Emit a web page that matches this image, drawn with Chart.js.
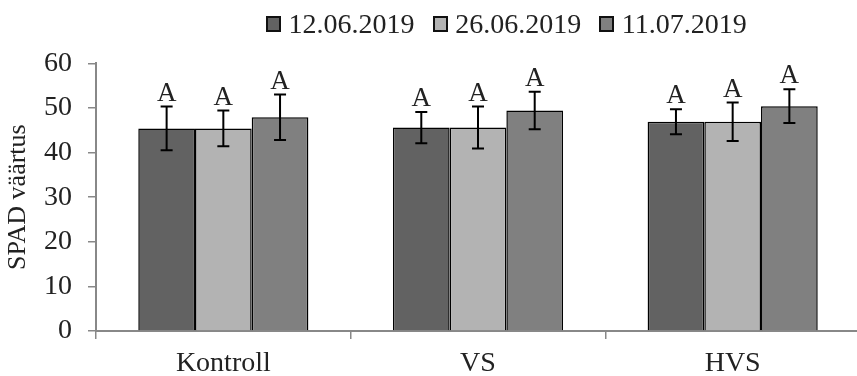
<!DOCTYPE html>
<html>
<head>
<meta charset="utf-8">
<script src="https://cdn.jsdelivr.net/npm/chart.js@4.4.1/dist/chart.umd.min.js"></script>
<style>
  html, body { margin: 0; padding: 0; background: #fff; overflow: hidden; }
  #wrap { position: relative; width: 860px; height: 376px; }
  #legend {
    position: absolute; left: 266px; top: 8px;
    display: flex; align-items: center;
    font-family: "Liberation Serif", "Times New Roman", serif;
    font-size: 28px; line-height: 32px; color: #222; white-space: nowrap;
  }
  .item { display: flex; align-items: center; margin-right: 18px; }
  .box { width: 15px; height: 16px; box-sizing: border-box; border: 2px solid #111; margin-right: 7.6px; }
</style>
</head>
<body>
<div id="wrap">
  <canvas id="c" width="860" height="376" style="width:860px;height:376px"></canvas>
  <div id="legend"></div>
</div>
<script>
// Treatments on the x axis
const categories = ['Kontroll', 'VS', 'HVS'];
// Measurement dates (one series each)
const seriesNames = ['12.06.2019', '26.06.2019', '11.07.2019'];
const seriesColors = ['#626262', '#b3b3b3', '#808080'];

// Mean SPAD values per treatment
const spad_1206 = [45.4, 45.6, 46.9];
const spad_2606 = [45.4, 45.6, 46.9];
const spad_1107 = [47.9, 49.4, 50.4];

// Standard deviations
const sd_1206 = [4.9, 3.5, 2.8];
const sd_2606 = [4.0, 4.7, 4.3];
const sd_1107 = [5.1, 4.2, 3.8];

// Significance letters
const sig_1206 = ['A', 'A', 'A'];
const sig_2606 = ['A', 'A', 'A'];
const sig_1107 = ['A', 'A', 'A'];

// Y axis range
const yMin = 0, yMax = 60, yStep = 10;

const FONT = '"Liberation Serif", "Times New Roman", serif';
const values = [spad_1206, spad_2606, spad_1107];
const errors = [sd_1206, sd_2606, sd_1107];
const letters = [sig_1206, sig_2606, sig_1107];

// HTML legend
const legend = document.getElementById('legend');
seriesNames.forEach((name, i) => {
  const item = document.createElement('div');
  item.className = 'item';
  const box = document.createElement('span');
  box.className = 'box';
  box.style.background = seriesColors[i];
  const txt = document.createElement('span');
  txt.textContent = name;
  item.appendChild(box);
  item.appendChild(txt);
  legend.appendChild(item);
});

// Error bars with significance letters above them
const errorBarPlugin = {
  id: 'errorBars',
  afterDatasetsDraw(chart) {
    const ctx = chart.ctx;
    const y = chart.scales.y;
    chart.data.datasets.forEach((ds, i) => {
      const meta = chart.getDatasetMeta(i);
      meta.data.forEach((bar, j) => {
        const v = ds.data[j], e = ds.errors[j];
        const yt = y.getPixelForValue(v + e);
        const yb = y.getPixelForValue(v - e);
        const cap = 6;
        ctx.save();
        ctx.strokeStyle = '#000';
        ctx.lineWidth = 2;
        ctx.beginPath();
        ctx.moveTo(bar.x, yt); ctx.lineTo(bar.x, yb);
        ctx.moveTo(bar.x - cap, yt); ctx.lineTo(bar.x + cap, yt);
        ctx.moveTo(bar.x - cap, yb); ctx.lineTo(bar.x + cap, yb);
        ctx.stroke();
        ctx.font = '27px ' + FONT;
        ctx.fillStyle = '#222';
        ctx.textAlign = 'center';
        ctx.textBaseline = 'alphabetic';
        ctx.fillText(ds.letters[j], bar.x, yt - 6);
        ctx.restore();
      });
    });
  }
};

new Chart(document.getElementById('c'), {
  type: 'bar',
  data: {
    labels: categories,
    datasets: seriesNames.map((name, i) => ({
      label: name,
      data: values[i],
      errors: errors[i],
      letters: letters[i],
      backgroundColor: seriesColors[i],
      borderColor: '#000',
      borderWidth: 1.5,
      borderSkipped: 'start',
      barPercentage: 1,
      categoryPercentage: 0.668
    }))
  },
  options: {
    responsive: false,
    animation: false,
    devicePixelRatio: 1,
    layout: { padding: { top: 63.3, right: 0, left: 0, bottom: 0 } },
    plugins: { legend: { display: false }, tooltip: { enabled: false } },
    scales: {
      x: {
        grid: { offset: true, drawOnChartArea: false, drawTicks: true, tickLength: 8, color: '#888', lineWidth: 1.5 },
        border: { color: '#888', width: 2 },
        ticks: { padding: 8, font: { family: FONT, size: 28 }, color: '#222' },
        afterFit(s) { s.height = 45; }
      },
      y: {
        min: yMin, max: yMax,
        grid: { drawOnChartArea: false, drawTicks: true, tickLength: 8, color: '#888', lineWidth: 1.5 },
        border: { color: '#888', width: 2 },
        ticks: { stepSize: yStep, padding: 16, font: { family: FONT, size: 28 }, color: '#222' },
        title: { display: true, text: 'SPAD väärtus', font: { family: FONT, size: 26 }, color: '#222', padding: { top: 3, bottom: 0 } },
        afterFit(s) { s.width = 96; }
      }
    }
  },
  plugins: [errorBarPlugin]
});
</script>
</body>
</html>
